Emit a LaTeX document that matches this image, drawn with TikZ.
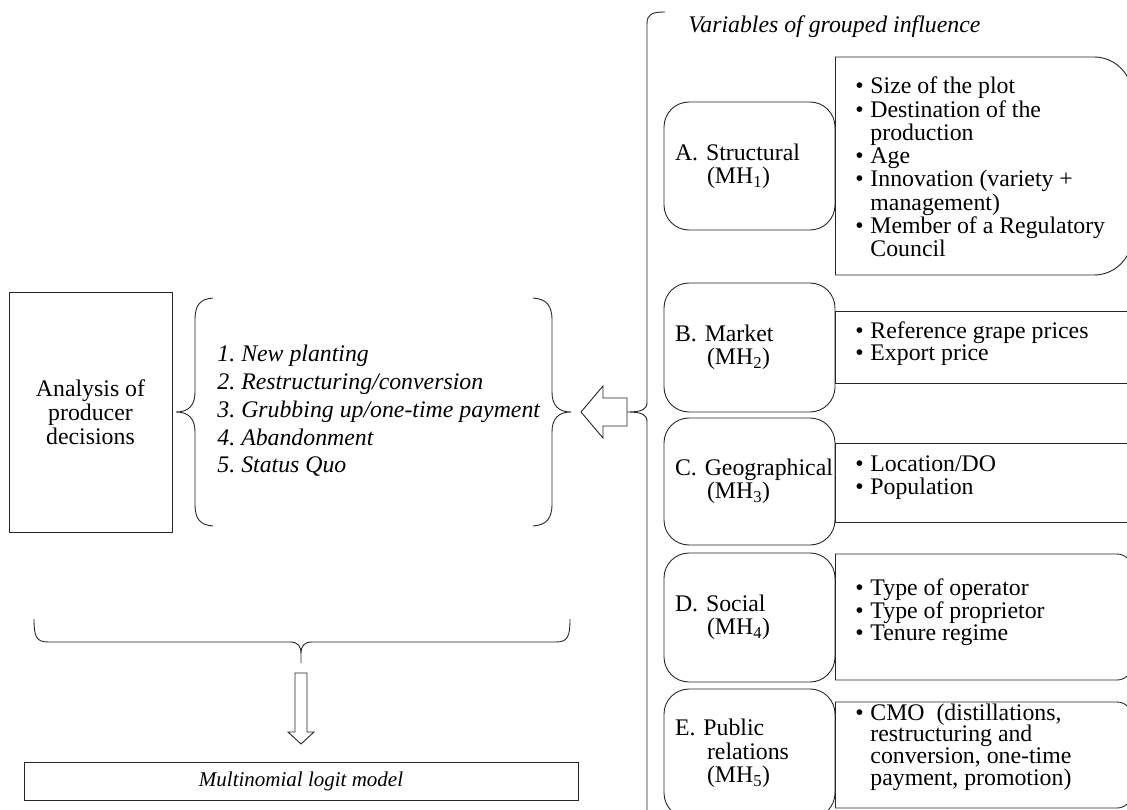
\documentclass[tikz,border=0pt]{standalone}
\usepackage{fontspec}
\setmainfont{Liberation Serif}
\newcommand{\bli}{\makebox[15pt][l]{\textbullet}}
\newcommand{\indt}{\hspace*{15pt}}
\newcommand{\hang}{\hspace*{32pt}}
\begin{document}
\frenchspacing
\hyphenpenalty=10000
\begin{tikzpicture}[x=1pt,y=-1pt,line width=0.9pt,
  every node/.style={font=\fontsize{23.8}{23.3}\selectfont},
  lbl/.style={draw=black!85, rounded corners=25pt, minimum width=171pt, minimum height=128pt,
    text width=149pt, inner xsep=11pt, inner ysep=0pt, align=left},
  det/.style={anchor=west, align=left, inner sep=0pt}]
\useasboundingbox (0,0) rectangle (1127,810);
\clip (0,0) rectangle (1127,810);
\begin{scope}[draw=black!85]
% left part
\node[draw=black!85, minimum width=163pt, minimum height=240pt, align=center,
  font=\fontsize{23.8}{24}\selectfont] (analysis) at (90.5,412) {Analysis of\\producer\\decisions};
\node[anchor=west, align=left, inner sep=0pt, font=\fontsize{23.8}{27.7}\selectfont\itshape]
  (items) at (217,411) {1. New planting\\2. Restructuring/conversion\\3. Grubbing up/one-time payment\\4. Abandonment\\5. Status Quo};
% left brace {
\draw (213,298) .. controls (200,299) and (195,305) .. (195,320) -- (195,392)
  .. controls (195,405) and (189,412) .. (176,412)
  .. controls (189,412) and (195,419) .. (195,432) -- (195,504)
  .. controls (195,519) and (200,525) .. (213,526);
% right brace }
\draw (533,298) .. controls (546,299) and (552,305) .. (552,320) -- (552,392)
  .. controls (552,405) and (558,412) .. (571,412)
  .. controls (558,412) and (552,419) .. (552,432) -- (552,504)
  .. controls (552,519) and (546,525) .. (533,526);
% left block arrow
\draw (581,412) -- (603,386) -- (603,398) -- (627,398) -- (627,426) -- (603,426) -- (603,438) -- cycle;
% big brace
\draw (665,12) .. controls (652,12) and (647,14) .. (647,24) -- (647,402)
  .. controls (647,409) and (643,412) .. (627,412)
  .. controls (643,412) and (647,415) .. (647,422) -- (647,830);
% bottom brace
\draw (34,619) .. controls (34,636) and (36,642) .. (48,642) -- (290,642)
  .. controls (298,642) and (301,646) .. (301,654) -- (301,663)
  (301,654) .. controls (301,646) and (304,642) .. (312,642) -- (556,642)
  .. controls (568,642) and (570,636) .. (570,619);
% down block arrow
\draw (301,744) -- (288,732) -- (295,732) -- (295,673) -- (307,673) -- (307,732) -- (314,732) -- cycle;
\node[draw=black!85, minimum width=554pt, minimum height=38pt, font=\fontsize{21}{22}\selectfont\itshape]
  (mlm) at (301,781) {Multinomial logit model};

% right part
\node[anchor=base west, inner sep=0pt, font=\fontsize{23.8}{24}\selectfont\itshape]
  (title) at (688,33) {Variables of grouped influence};

% detail frames
\draw (835,57) -- (835,275);
\draw[rounded corners=38pt] (835,57) -- (1132,57) -- (1132,275) -- (835,275);
\draw (835,311) rectangle (1140,383);
\draw (835,443) rectangle (1140,522);
\draw (835,554) -- (835,680);
\draw[rounded corners=15pt] (835,554) -- (1132,554) -- (1132,680) -- (835,680);
\draw (835,702) -- (835,808);
\draw[rounded corners=15pt] (835,702) -- (1132,702) -- (1132,808) -- (835,808);
\end{scope}

% label boxes
\node[lbl] (A) at (749.5,166) {A. Structural\\\hang(MH\textsubscript{1})};
\node[lbl, minimum height=129pt] (B) at (749.5,347.5) {B. Market\\\hang(MH\textsubscript{2})};
\node[lbl, minimum height=127pt] (C) at (749.5,481.5) {\mbox{C. Geographical}\\\hang(MH\textsubscript{3})};
\node[lbl, minimum height=129pt] (D) at (749.5,617.5) {D. Social\\\hang(MH\textsubscript{4})};
\node[lbl, minimum height=129pt] (E) at (749.5,753.5) {E. Public\\\hang relations\\\hang(MH\textsubscript{5})};

% detail texts
\node[det] (dA) at (855,167) {\bli Size of the plot\\\bli Destination of the\\\indt production\\\bli Age\\\bli Innovation (variety +\\\indt management)\\\bli Member of a Regulatory\\\indt Council};
\node[det, font=\fontsize{23.8}{22}\selectfont] (dB) at (855,344) {\bli Reference grape prices\\\bli Export price};
\node[det, font=\fontsize{23.8}{23}\selectfont] (dC) at (855,478) {\bli Location/DO\\\bli Population};
\node[det, font=\fontsize{23.8}{20.5}\selectfont] (dD) at (855,612) {\bli Type of operator\\\bli Type of proprietor\\\bli Tenure regime};
\node[det, font=\fontsize{23.8}{21.7}\selectfont] (dE) at (855,747) {\bli CMO\ \ (distillations,\\\indt restructuring and\\\indt conversion, one-time\\\indt payment, promotion)};
\end{tikzpicture}
\end{document}
